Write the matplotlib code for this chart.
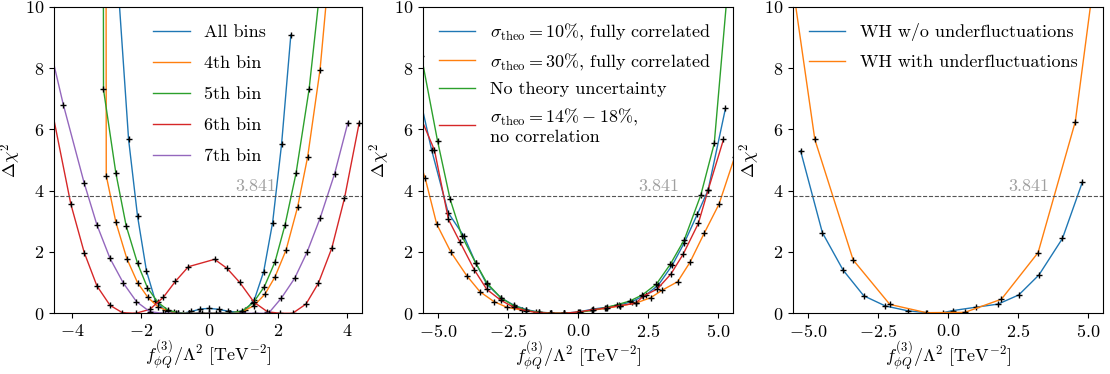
import numpy as np
import matplotlib
matplotlib.use("Agg")
import matplotlib.pyplot as plt

plt.rcParams['font.family'] = 'serif'
plt.rcParams['font.serif'] = ['cmr10']
plt.rcParams['mathtext.fontset'] = 'cm'
plt.rcParams['axes.formatter.use_mathtext'] = True
plt.rcParams['font.size'] = 13
plt.rcParams['axes.unicode_minus'] = True

CL95 = 3.841

# --- panel 1: single bins ---
x_all = [-2.65, -2.35, -2.09, -1.83, -1.57, -1.30, -1.04, -0.78, -0.52, -0.26, 0.0,
         0.27, 0.53, 0.79, 1.05, 1.31, 1.58, 1.84, 2.10, 2.37]
y_all = [10.6, 5.67, 3.17, 1.38, 0.40, 0.10, 0.03, 0.0, 0.06, 0.14, 0.16,
         0.13, 0.07, 0.04, 0.10, 0.45, 1.36, 2.96, 5.51, 9.08]

x_bin4 = [-3.02, -3.0, -2.72, -2.40, -2.09, -1.79, -1.5, -1.2, -0.9, -0.6, -0.3, 0.0,
          0.3, 0.6, 0.95, 1.3, 1.62, 1.91, 2.23, 2.57, 2.86, 3.22, 3.55]
y_bin4 = [30.0, 4.49, 2.97, 1.78, 1.0, 0.52, 0.22, 0.07, 0.01, 0.0, 0.0, 0.0,
          0.0, 0.01, 0.05, 0.25, 0.63, 1.19, 2.06, 3.48, 5.11, 7.95, 12.0]

x_bin5 = [-3.10, -3.08, -2.72, -2.42, -2.09, -1.80, -1.5, -1.2, -0.9, -0.6, -0.3, 0.0,
          0.3, 0.6, 0.95, 1.28, 1.60, 1.91, 2.20, 2.52, 2.90, 3.25]
y_bin5 = [30.0, 7.30, 4.57, 2.85, 1.63, 0.83, 0.36, 0.10, 0.02, 0.0, 0.0, 0.0,
          0.0, 0.01, 0.07, 0.35, 0.87, 1.68, 2.88, 4.56, 7.30, 10.9]

x_bin6 = [-4.8, -4.03, -3.64, -3.27, -2.89, -2.53, -2.14, -1.73, -1.34, -0.99, -0.61,
          0.15, 0.51, 0.88, 1.30, 1.69, 2.06, 2.42, 2.81, 3.17, 3.56, 3.93, 4.36]
y_bin6 = [7.87, 3.56, 1.98, 0.89, 0.26, 0.02, 0.0, 0.13, 0.52, 1.04, 1.52,
          1.76, 1.47, 1.01, 0.36, 0.05, 0.0, 0.0, 0.30, 0.98, 2.12, 3.75, 6.22]

x_bin7 = [-4.63, -4.25, -3.64, -3.27, -2.89, -2.50, -2.12, -1.73, -1.35, -0.97, -0.58,
          -0.2, 0.18, 0.56, 0.95, 1.33, 1.72, 2.09, 2.48, 2.84, 3.22, 3.64, 4.03]
y_bin7 = [8.63, 6.81, 4.24, 2.88, 1.79, 0.98, 0.38, 0.05, 0.0, 0.0, 0.0,
          0.0, 0.0, 0.0, 0.0, 0.0, 0.0, 0.49, 1.14, 1.99, 3.10, 4.54, 6.22]

# --- panel 2: theory uncertainty ---
x_th10 = [-5.7, -5.23, -4.64, -4.08, -3.65, -3.26, -2.75, -2.3, -1.85, -1.4, -0.95, -0.5,
          0.05, 0.55, 1.05, 1.48, 1.92, 2.43, 2.87, 3.37, 3.80, 4.27, 4.65, 5.27]
y_th10 = [7.23, 5.32, 3.28, 2.52, 1.63, 0.95, 0.50, 0.27, 0.12, 0.04, 0.01, 0.0,
          0.05, 0.14, 0.20, 0.27, 0.38, 0.60, 0.92, 1.57, 2.30, 3.24, 4.02, 6.68]

x_th30 = [-5.9, -5.46, -5.05, -4.54, -3.98, -3.5, -3.0, -2.55, -2.0, -1.5, -1.0, -0.5,
          0.0, 0.5, 1.0, 1.5, 2.06, 2.6, 3.02, 3.56, 4.0, 4.51, 5.04, 5.6]
y_th30 = [5.61, 4.40, 2.91, 1.99, 1.23, 0.70, 0.38, 0.20, 0.10, 0.04, 0.01, 0.0,
          0.03, 0.10, 0.16, 0.24, 0.33, 0.51, 0.76, 1.03, 1.66, 2.61, 3.56, 5.1]

x_noth = [-5.6, -5.02, -4.57, -4.15, -3.65, -3.25, -2.75, -2.3, -1.85, -1.4, -0.95, -0.5,
          0.0, 0.5, 0.95, 1.4, 1.85, 2.3, 2.8, 3.3, 3.8, 4.39, 4.87, 5.35]
y_noth = [8.4, 5.62, 3.72, 2.52, 1.63, 0.98, 0.50, 0.25, 0.10, 0.03, 0.0, 0.0,
          0.02, 0.10, 0.18, 0.28, 0.40, 0.60, 0.95, 1.60, 2.40, 3.86, 5.54, 10.6]

x_nocor = [-5.7, -5.13, -4.63, -4.21, -3.70, -3.26, -2.75, -2.3, -1.85, -1.4, -0.95, -0.5,
           0.07, 0.55, 1.05, 1.5, 2.07, 2.33, 2.83, 3.32, 3.76, 4.30, 4.65, 5.20]
y_nocor = [6.55, 5.32, 3.06, 2.31, 1.41, 0.78, 0.42, 0.20, 0.08, 0.02, 0.0, 0.0,
           0.05, 0.12, 0.18, 0.25, 0.33, 0.56, 0.79, 1.28, 1.93, 2.93, 4.02, 5.67]

# --- panel 3: WH underfluctuations ---
x_wo = [-5.27, -4.49, -3.75, -3.01, -2.24, -1.43, -0.75, -0.18, 0.18, 1.01, 1.79,
        2.53, 3.25, 4.09, 4.80]
y_wo = [5.30, 2.63, 1.41, 0.57, 0.24, 0.08, 0.02, 0.02, 0.09, 0.20, 0.30,
        0.60, 1.25, 2.44, 4.27]

x_with = [-6.1, -4.76, -3.39, -2.08, -0.77, 0.6, 1.91, 3.22, 4.55, 5.88]
y_with = [14.2, 5.67, 1.74, 0.29, 0.02, 0.03, 0.46, 1.98, 6.25, 15.5]

cols = plt.rcParams['axes.prop_cycle'].by_key()['color']

fig = plt.figure(figsize=(11.1, 3.74), dpi=100)
axes = [fig.add_axes([54/1110, 1 - 313.3/374, 308/1110, 306.6/374]),
        fig.add_axes([423/1110, 1 - 313.3/374, 310/1110, 306.6/374]),
        fig.add_axes([793/1110, 1 - 313.3/374, 310/1110, 306.6/374])]


def draw(ax, xs, ys, color, label):
    ax.plot(xs, ys, color=color, lw=1.0, label=label)
    ax.plot(xs, ys, 'k+', ms=5, mew=1.0)


ax = axes[0]
draw(ax, x_all, y_all, cols[0], "All bins")
draw(ax, x_bin4, y_bin4, cols[1], "4th bin")
draw(ax, x_bin5, y_bin5, cols[2], "5th bin")
draw(ax, x_bin6, y_bin6, cols[3], "6th bin")
draw(ax, x_bin7, y_bin7, cols[4], "7th bin")
ax.set_xlim(-4.52, 4.44)
ax.set_xticks([-4, -2, 0, 2, 4])
ax.legend(loc='upper left', bbox_to_anchor=(0.27, 0.995), frameon=False, labelspacing=0.85)
ax.text(1.35, CL95 + 0.05, "3.841", color='#a0a0a0', ha='center', va='bottom')

ax = axes[1]
draw(ax, x_th10, y_th10, cols[0], r"$\sigma_{\rm theo} = 10\%$, fully correlated")
draw(ax, x_th30, y_th30, cols[1], r"$\sigma_{\rm theo} = 30\%$, fully correlated")
draw(ax, x_noth, y_noth, cols[2], "No theory uncertainty")
draw(ax, x_nocor, y_nocor, cols[3], r"$\sigma_{\rm theo} = 14\% - 18\%$," + "\nno correlation")
ax.set_xlim(-5.54, 5.54)
ax.legend(loc='upper left', bbox_to_anchor=(0.0, 1.005), frameon=False)
ax.text(2.9, CL95 + 0.05, "3.841", color='#a0a0a0', ha='center', va='bottom')

ax = axes[2]
draw(ax, x_wo, y_wo, cols[0], "WH w/o underfluctuations")
draw(ax, x_with, y_with, cols[1], "WH with underfluctuations")
ax.set_xlim(-5.54, 5.54)
ax.legend(loc='upper left', frameon=False, labelspacing=0.75)
ax.text(2.9, CL95 + 0.05, "3.841", color='#a0a0a0', ha='center', va='bottom')

for ax in axes:
    ax.axhline(CL95, color='#555555', lw=0.8, ls='--')
    ax.set_ylim(0, 10)
    ax.set_xlabel(r"$f_{\phi Q}^{(3)}/\Lambda^2$ [TeV$^{-2}$]", labelpad=0)
    ax.set_ylabel(r"$\Delta\chi^2$", labelpad=1)

fig.savefig("out.png", dpi=100)
